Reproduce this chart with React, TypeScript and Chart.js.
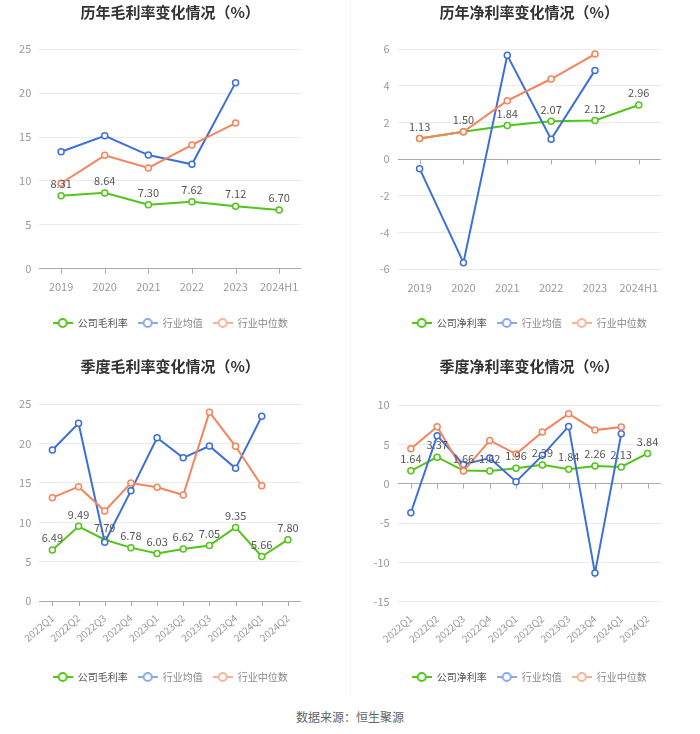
import React, { useEffect, useRef } from "react";
import { Chart, registerables } from "chart.js";

Chart.register(...registerables);

// ---------- data ----------
const yearCats = ["2019", "2020", "2021", "2022", "2023", "2024H1"];
const grossCompany = [8.31, 8.64, 7.3, 7.62, 7.12, 6.7];
const grossIndustryAvg = [13.33, 15.15, 12.95, 11.9, 21.2, null];
const grossIndustryMedian = [9.74, 12.92, 11.48, 14.1, 16.6, null];

const netCompany = [1.13, 1.5, 1.84, 2.07, 2.12, 2.96];
const netIndustryAvg = [-0.51, -5.64, 5.67, 1.09, 4.85, null];
const netIndustryMedian = [1.13, 1.5, 3.2, 4.38, 5.74, null];

const quarterCats = [
  "2022Q1", "2022Q2", "2022Q3", "2022Q4",
  "2023Q1", "2023Q2", "2023Q3", "2023Q4",
  "2024Q1", "2024Q2",
];
const qGrossCompany = [6.49, 9.49, 7.79, 6.78, 6.03, 6.62, 7.05, 9.35, 5.66, 7.8];
const qGrossIndustryAvg = [19.2, 22.6, 7.46, 14.0, 20.75, 18.2, 19.7, 16.86, 23.47, null];
const qGrossIndustryMedian = [13.13, 14.53, 11.44, 15.0, 14.45, 13.47, 24.0, 19.66, 14.65, null];

const qNetCompany = [1.64, 3.37, 1.66, 1.62, 1.96, 2.39, 1.84, 2.26, 2.13, 3.84];
const qNetIndustryAvg = [-3.69, 6.1, 2.45, 3.25, 0.25, 3.6, 7.28, -11.36, 6.35, null];
const qNetIndustryMedian = [4.45, 7.24, 1.6, 5.5, 3.76, 6.56, 8.9, 6.81, 7.19, null];

const grossYTicks = { min: 0, max: 25, step: 5 };
const netYTicks = { min: -6, max: 6, step: 2 };
const qNetYTicks = { min: -15, max: 10, step: 5 };

// ---------- styles ----------
const FONT = "'Noto Sans CJK SC', 'Noto Sans', sans-serif";
const GREEN = "#52c41a";
const BLUE = "#3d6fd9";
const ORANGE = "#f5845c";
const LEGEND_SYMBOL = [GREEN, "#8ca8e8", "#f6b39b"];
const LEGEND_TEXT = ["#555", "#888", "#888"];

function makeSymbol(color: string) {
  const c = document.createElement("canvas");
  c.width = 20;
  c.height = 12;
  const ctx = c.getContext("2d")!;
  ctx.strokeStyle = color;
  ctx.lineWidth = 2;
  ctx.beginPath();
  ctx.moveTo(0, 6);
  ctx.lineTo(20, 6);
  ctx.stroke();
  ctx.beginPath();
  ctx.arc(10, 6, 4, 0, Math.PI * 2);
  ctx.fillStyle = "#fff";
  ctx.fill();
  ctx.stroke();
  return c;
}

const valueLabels = {
  id: "valueLabels",
  afterDatasetsDraw(chart: any) {
    const meta = chart.getDatasetMeta(0);
    const data = chart.data.datasets[0].data;
    const ctx = chart.ctx;
    ctx.save();
    ctx.font = `11px ${FONT}`;
    ctx.fillStyle = "#555";
    ctx.textAlign = "center";
    ctx.textBaseline = "middle";
    meta.data.forEach((pt: any, i: number) => {
      const v = data[i];
      if (v == null) return;
      ctx.fillText(Number(v).toFixed(2), pt.x, pt.y - 12);
    });
    ctx.restore();
  },
};

const zeroTicks = {
  id: "zeroTicks",
  beforeDatasetsDraw(chart: any) {
    const xs = chart.scales.x;
    const ys = chart.scales.y;
    const y0 = ys.getPixelForValue(0);
    const ctx = chart.ctx;
    ctx.save();
    ctx.strokeStyle = "#aaa";
    ctx.lineWidth = 1;
    xs.ticks.forEach((_t: any, i: number) => {
      const x = Math.round(xs.getPixelForTick(i)) + 0.5;
      ctx.beginPath();
      ctx.moveTo(x, y0);
      ctx.lineTo(x, y0 + 5);
      ctx.stroke();
    });
    ctx.restore();
  },
};

type Cfg = {
  title: string;
  companyLabel: string;
  cats: string[];
  company: (number | null)[];
  avg: (number | null)[];
  median: (number | null)[];
  yt: { min: number; max: number; step: number };
  height: number;
  yWidth: number;
  padRight: number;
  padBottom: number;
  titleBottom: number;
  xHeight: number;
  rotate: boolean;
};

function LineChart({ cfg }: { cfg: Cfg }) {
  const ref = useRef<HTMLCanvasElement>(null);
  useEffect(() => {
    const names = [cfg.companyLabel, "行业均值", "行业中位数"];
    const symbols = LEGEND_SYMBOL.map(makeSymbol);
    const ds = (label: string, data: any[], color: string, order: number) => ({
      label,
      data,
      borderColor: color,
      backgroundColor: "#fff",
      borderWidth: 2,
      pointRadius: 3,
      pointBorderWidth: 1.5,
      pointBackgroundColor: "#fff",
      pointBorderColor: color,
      tension: 0,
      order,
    });
    const chart = new Chart(ref.current!, {
      type: "line",
      data: {
        labels: cfg.cats,
        datasets: [
          ds(names[0], cfg.company, GREEN, 2),
          ds(names[1], cfg.avg, BLUE, 1),
          ds(names[2], cfg.median, ORANGE, 0),
        ],
      },
      options: {
        responsive: false,
        animation: false,
        devicePixelRatio: 1,
        layout: { padding: { left: 0, right: cfg.padRight, top: 0, bottom: cfg.padBottom } },
        plugins: {
          title: {
            display: true,
            fullSize: false,
            text: cfg.title,
            color: "#333",
            font: { family: FONT, size: 15, weight: "bold" },
            padding: { top: 3, bottom: cfg.titleBottom },
          },
          legend: {
            display: true,
            fullSize: false,
            position: "bottom",
            labels: {
              usePointStyle: true,
              pointStyleWidth: 20,
              padding: 10,
              font: { family: FONT, size: 10 },
              color: "#666",
              generateLabels: () =>
                names.map((n, i) => ({
                  text: n,
                  pointStyle: symbols[i],
                  fillStyle: "#fff",
                  strokeStyle: LEGEND_SYMBOL[i],
                  fontColor: LEGEND_TEXT[i],
                  lineWidth: 0,
                  hidden: false,
                  datasetIndex: i,
                })),
            },
          },
          tooltip: { enabled: false },
        },
        scales: {
          x: {
            type: "category",
            offset: true,
            grid: { display: false },
            border: { display: false },
            ticks: {
              color: "#999",
              font: { family: FONT, size: cfg.rotate ? 10 : 11 },
              padding: cfg.rotate ? 3 : 4,
              autoSkip: false,
              minRotation: cfg.rotate ? 41 : 0,
              maxRotation: cfg.rotate ? 41 : 0,
            },
            afterFit: (s: any) => {
              s.height = cfg.xHeight;
            },
          },
          y: {
            min: cfg.yt.min,
            max: cfg.yt.max,
            border: { display: false },
            grid: {
              drawTicks: false,
              color: (c: any) => (c.tick && c.tick.value === 0 ? "#aaa" : "#ebebeb"),
            },
            ticks: {
              stepSize: cfg.yt.step,
              color: "#999",
              padding: 8,
              font: { family: FONT, size: 11 },
            },
            afterFit: (s: any) => {
              s.width = cfg.yWidth;
            },
          },
        },
      } as any,
      plugins: [valueLabels, zeroTicks],
    });
    return () => chart.destroy();
  }, [cfg]);
  return <canvas ref={ref} width={350} height={cfg.height} style={{ display: "block" }} />;
}

const charts: Cfg[] = [
  {
    title: "历年毛利率变化情况（%）",
    companyLabel: "公司毛利率",
    cats: yearCats,
    company: grossCompany,
    avg: grossIndustryAvg,
    median: grossIndustryMedian,
    yt: grossYTicks,
    height: 354,
    yWidth: 39.3,
    padRight: 49,
    padBottom: 16,
    titleBottom: 28.3,
    xHeight: 39.3,
    rotate: false,
  },
  {
    title: "历年净利率变化情况（%）",
    companyLabel: "公司净利率",
    cats: yearCats,
    company: netCompany,
    avg: netIndustryAvg,
    median: netIndustryMedian,
    yt: netYTicks,
    height: 354,
    yWidth: 47.7,
    padRight: 39.3,
    padBottom: 16,
    titleBottom: 28.3,
    xHeight: 38.7,
    rotate: false,
  },
  {
    title: "季度毛利率变化情况（%）",
    companyLabel: "公司毛利率",
    cats: quarterCats,
    company: qGrossCompany,
    avg: qGrossIndustryAvg,
    median: qGrossIndustryMedian,
    yt: grossYTicks,
    height: 340,
    yWidth: 39.3,
    padRight: 49,
    padBottom: 2,
    titleBottom: 29.3,
    xHeight: 61,
    rotate: true,
  },
  {
    title: "季度净利率变化情况（%）",
    companyLabel: "公司净利率",
    cats: quarterCats,
    company: qNetCompany,
    avg: qNetIndustryAvg,
    median: qNetIndustryMedian,
    yt: qNetYTicks,
    height: 340,
    yWidth: 47.7,
    padRight: 39.3,
    padBottom: 2,
    titleBottom: 30,
    xHeight: 60.3,
    rotate: true,
  },
];

const pos = [
  { left: 0, top: 0 },
  { left: 350, top: 0 },
  { left: 0, top: 354 },
  { left: 350, top: 354 },
];

export default function App() {
  return (
    <div
      style={{
        position: "absolute",
        left: 0,
        top: 0,
        width: 700,
        height: 734,
        background: "#fff",
        overflow: "hidden",
      }}
    >
      {charts.map((c, i) => (
        <div key={i} style={{ position: "absolute", left: pos[i].left, top: pos[i].top, width: 350, height: c.height }}>
          <LineChart cfg={c} />
        </div>
      ))}
      <div style={{ position: "absolute", left: 350, top: 0, width: 1, height: 694, background: "#f4f4f4" }} />
      <div
        style={{
          position: "absolute",
          left: 0,
          top: 709,
          width: 700,
          textAlign: "center",
          fontFamily: FONT,
          fontSize: 12,
          lineHeight: "16px",
          color: "#666",
        }}
      >
        数据来源：恒生聚源
      </div>
    </div>
  );
}
